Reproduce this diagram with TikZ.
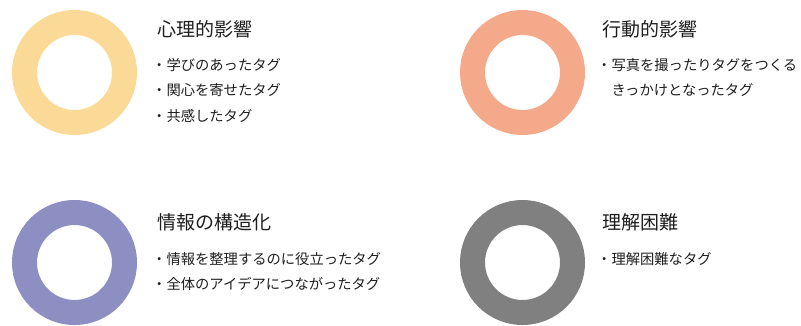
\documentclass[tikz,border=0pt]{standalone}
\usepackage{fontspec}
\newfontfamily\jp{Noto Sans CJK JP}
\definecolor{ringY}{RGB}{250,218,150}
\definecolor{ringO}{RGB}{244,170,138}
\definecolor{ringP}{RGB}{141,142,194}
\definecolor{ringG}{RGB}{128,128,128}
\definecolor{txt}{RGB}{30,30,30}
\begin{document}
\begin{tikzpicture}[x=1pt,y=-1pt,
  ring/.style={line width=25pt},
  ttl/.style={anchor=base west,inner sep=0pt,text=txt,font=\jp\fontsize{19}{19}\selectfont},
  itm/.style={anchor=base west,inner sep=0pt,text=txt,font=\jp\fontsize{14.3}{14.3}\selectfont}]
\useasboundingbox (0,0) rectangle (801,325);
\draw[ring,ringY] (74.5,72.5) circle[radius=50];
\draw[ring,ringO] (522.5,72.5) circle[radius=50];
\draw[ring,ringP] (74.5,262.5) circle[radius=50];
\draw[ring,ringG] (522.5,262.5) circle[radius=50];
% top-left
\node[ttl] (t1) at (157,36) {心理的影響};
\node[itm] (a1) at (152,70) {・学びのあったタグ};
\node[itm] (a2) at (152,95.5) {・関心を寄せたタグ};
\node[itm] (a3) at (152,121) {・共感したタグ};
% top-right
\node[ttl] (t2) at (602,36) {行動的影響};
\node[itm] (b1) at (597,70) {・写真を撮ったりタグをつくる};
\node[itm] (b2) at (597,95.5) {\hphantom{・}きっかけとなったタグ};
% bottom-left
\node[ttl] (t3) at (157,229) {情報の構造化};
\node[itm] (c1) at (152,264.5) {・情報を整理するのに役立ったタグ};
\node[itm] (c2) at (152,289.5) {・全体のアイデアにつながったタグ};
% bottom-right
\node[ttl] (t4) at (602,229) {理解困難};
\node[itm] (d1) at (597,264) {・理解困難なタグ};
\end{tikzpicture}
\end{document}
